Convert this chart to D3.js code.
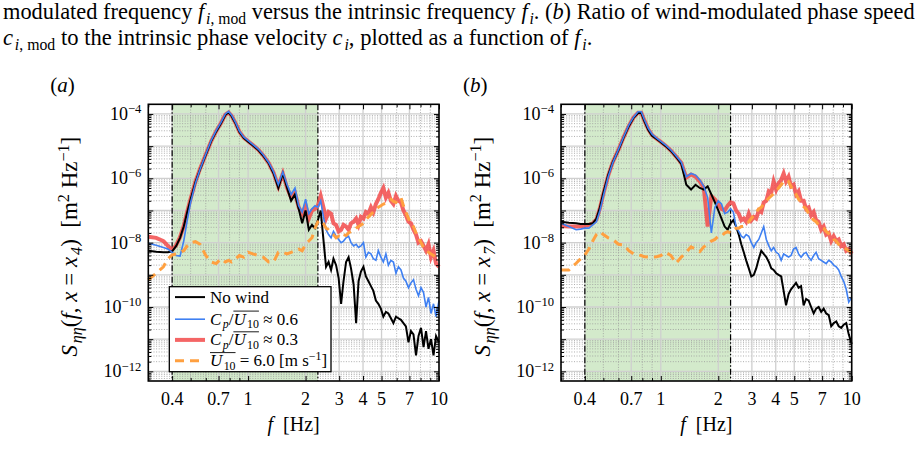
<!DOCTYPE html>
<html>
<head>
<meta charset="utf-8">
<script src="https://cdn.jsdelivr.net/npm/d3@7"></script>
<style>
  body { margin: 0; background: #fff; }
  svg { display: block; }
  svg text { font-family: "Liberation Serif", "DejaVu Serif", "Times New Roman", serif; white-space: pre; }
</style>
</head>
<body>
<svg id="chart" width="915" height="462" font-family="Liberation Serif, DejaVu Serif, serif"></svg>
<script>
// frequency bins [Hz], shared by all spectra
var freq = [0.30, 0.33, 0.36, 0.38, 0.40, 0.42, 0.44, 0.46, 0.48, 0.50,
    0.53, 0.56, 0.60, 0.64, 0.68, 0.72, 0.76, 0.79, 0.82, 0.86,
    0.90, 0.95, 1.00, 1.06, 1.13, 1.20, 1.28, 1.36, 1.44, 1.52,
    1.60, 1.68, 1.76, 1.84, 1.92, 2.00, 2.08, 2.16, 2.24, 2.32,
    2.40, 2.48, 2.56, 2.64, 2.72, 2.80, 2.89, 2.98, 3.07, 3.16,
    3.26, 3.36, 3.46, 3.57, 3.68, 3.79, 3.90, 4.02, 4.14, 4.27,
    4.40, 4.53, 4.67, 4.81, 4.96, 5.11, 5.27, 5.43, 5.60, 5.77,
    5.95, 6.13, 6.32, 6.51, 6.71, 6.92, 7.13, 7.35, 7.58, 7.81,
    8.05, 8.30, 8.55, 8.81, 9.08, 9.36, 9.65, 10.0];

// log10 of S_eta_eta [m^2 Hz^-1], panel (a), x = x4
var aNoWind = [-8.25, -8.28, -8.3, -8.3, -8.27, -8.1, -7.85, -7.5, -7.05, -6.65,
    -6.12, -5.72, -5.27, -4.85, -4.55, -4.3, -4.03, -3.95, -4.07, -4.3,
    -4.56, -4.75, -4.86, -4.98, -5.12, -5.3, -5.53, -5.85, -6.3, -5.85,
    -6.3, -6.7, -6.5, -6.95, -7.4, -7.0, -7.6, -7.45, -7.55, -7.3,
    -7.0, -7.9, -8.75, -8.6, -8.85, -8.5, -8.7, -9.1, -9.9, -9.2,
    -8.6, -8.45, -8.8, -9.3, -10.5, -9.2, -8.9, -8.75, -9.05, -9.2,
    -9.35, -9.5, -9.8, -9.9, -10.05, -10.3, -10.15, -10.2, -10.35, -10.5,
    -10.3, -10.35, -10.4, -10.5, -10.6, -11.1, -10.75, -10.85, -11.5, -10.9,
    -10.65, -11.25, -10.75, -11.3, -11.0, -11.5, -10.9, -11.1];
var aCp06 = [-8.02, -8.08, -8.15, -8.2, -8.3, -8.4, -8.42, -7.95, -7.3, -6.75,
    -6.15, -5.72, -5.25, -4.83, -4.52, -4.27, -4.0, -3.92, -4.04, -4.27,
    -4.53, -4.72, -4.83, -4.95, -5.09, -5.27, -5.5, -5.8, -6.2, -5.8,
    -6.2, -6.5, -6.3, -6.85, -7.05, -6.65, -7.1, -6.95, -6.85, -6.9,
    -6.7, -7.2, -7.6, -7.75, -7.85, -7.65, -7.8, -7.9, -8.0, -7.95,
    -7.85, -7.8, -8.0, -8.1, -8.05, -8.15, -8.1, -8.0, -8.45, -8.3,
    -8.35, -8.5, -8.55, -8.25, -8.45, -8.6, -8.35, -8.7, -8.55, -8.6,
    -8.95, -8.75, -8.85, -9.1, -9.2, -9.4, -9.25, -9.15, -9.45, -9.65,
    -9.4, -9.55, -10.0, -9.7, -10.2, -9.9, -10.3, -9.8];
var aCp03 = [-7.82, -7.85, -7.95, -8.1, -8.22, -8.08, -7.83, -7.48, -7.03, -6.63,
    -6.1, -5.7, -5.26, -4.85, -4.54, -4.29, -4.02, -3.95, -4.06, -4.29,
    -4.55, -4.74, -4.85, -4.97, -5.11, -5.29, -5.52, -5.83, -6.25, -5.85,
    -6.3, -6.6, -6.45, -6.9, -7.1, -6.85, -7.25, -7.0, -6.95, -6.85,
    -6.55, -6.9, -7.25, -7.05, -7.1, -7.4, -7.45, -7.65, -7.6, -7.45,
    -7.5, -7.6, -7.4, -7.35, -7.25, -7.45, -7.2, -7.25, -7.05, -7.1,
    -6.9, -7.05, -6.8, -6.65, -6.45, -6.3, -6.6, -6.45, -6.7, -6.8,
    -6.55, -6.7, -6.75, -7.0, -7.15, -7.35, -7.4, -7.6, -7.75, -8.0,
    -7.95, -8.1, -8.25, -8.05, -8.45, -8.25, -8.65, -8.75];
var aU10 = [-9.16, -8.95, -8.75, -8.5, -8.38, -8.35, -8.3, -8.25, -8.1, -8.0,
    -7.97, -8.05, -8.4, -8.6, -8.65, -8.5, -8.6, -8.55, -8.6, -8.5,
    -8.4, -8.45, -8.3, -8.35, -8.4, -8.45, -8.6, -8.6, -8.3, -8.3,
    -8.35, -8.3, -8.25, -8.2, -8.25, -8.05, -7.95, -7.85, -7.55, -7.35,
    -7.3, -7.4, -7.55, -7.6, -7.7, -7.75, -7.85, -7.8, -7.85, -7.75,
    -7.78, -7.7, -7.65, -7.62, -7.55, -7.5, -7.45, -7.4, -7.3, -7.2,
    -7.12, -7.05, -6.95, -6.9, -6.85, -6.8, -6.78, -6.7, -6.65, -6.72,
    -6.75, -6.65, -6.6, -6.85, -7.05, -7.25, -7.4, -7.5, -7.7, -7.85,
    -8.0, -8.15, -8.25, -8.3, -8.35, -8.4, -8.45, -8.45];

// log10 of S_eta_eta, panel (b), x = x7
var bNoWind = [-7.35, -7.38, -7.4, -7.42, -7.42, -7.42, -7.4, -7.25, -6.9, -6.45,
    -5.9, -5.5, -5.12, -4.72, -4.38, -4.12, -3.97, -3.97, -4.22, -4.5,
    -4.68, -4.78, -4.88, -5.0, -5.15, -5.33, -5.55, -6.2, -6.35, -6.2,
    -6.3, -6.35, -6.25, -6.5, -6.75, -7.0, -7.25, -7.5, -7.6, -7.4,
    -7.3, -7.5, -7.75, -8.05, -8.3, -8.55, -8.8, -9.05, -9.0, -8.8,
    -8.5, -8.25, -8.35, -8.45, -8.6, -8.8, -8.85, -8.95, -9.0, -9.05,
    -9.5, -9.95, -9.6, -9.45, -9.35, -9.25, -9.4, -9.35, -9.95, -9.75,
    -9.8, -10.0, -10.2, -10.05, -10.0, -10.15, -10.05, -10.2, -10.25, -10.6,
    -10.5, -10.45, -10.6, -10.65, -10.55, -10.5, -10.85, -11.15];
var bCp06 = [-7.4, -7.5, -7.6, -7.58, -7.55, -7.55, -7.45, -7.35, -7.0, -6.55,
    -5.95, -5.52, -5.1, -4.7, -4.35, -4.1, -3.93, -3.93, -4.18, -4.45,
    -4.63, -4.75, -4.85, -4.97, -5.12, -5.3, -5.5, -5.95, -5.85, -5.9,
    -6.05, -6.25, -6.6, -7.7, -6.9, -6.7, -6.8, -7.1, -7.05, -6.95,
    -7.05, -7.5, -7.65, -7.8, -7.85, -7.75, -7.8, -8.0, -8.15, -8.0,
    -7.9, -7.7, -7.5, -7.9, -8.1, -8.25, -8.15, -8.3, -8.35, -8.55,
    -8.35, -8.4, -8.45, -8.4, -8.2, -8.15, -8.35, -8.45, -8.35, -8.3,
    -8.45, -8.55, -8.4, -8.3, -8.5, -8.55, -8.6, -8.65, -8.55, -8.6,
    -8.7, -8.75, -8.85, -9.05, -9.2, -9.45, -9.85, -9.7];
var bCp03 = [-7.48, -7.5, -7.5, -7.5, -7.48, -7.45, -7.4, -7.28, -6.92, -6.48,
    -5.92, -5.5, -5.11, -4.71, -4.37, -4.11, -3.96, -3.96, -4.2, -4.48,
    -4.66, -4.77, -4.87, -4.99, -5.14, -5.32, -5.52, -5.98, -5.88, -5.95,
    -6.1, -6.3, -7.5, -6.55, -6.65, -6.8, -6.95, -7.0, -6.85, -6.75,
    -6.78, -7.0, -7.1, -7.3, -7.25, -7.35, -7.1, -7.3, -7.2, -7.25,
    -7.0, -7.05, -6.75, -6.7, -6.4, -6.45, -6.1, -6.35, -6.15, -6.05,
    -5.85, -6.1, -5.95, -6.25, -6.2, -6.5, -6.4, -6.7, -6.7, -6.95,
    -6.9, -7.15, -7.05, -7.3, -7.35, -7.6, -7.5, -7.75, -7.7, -7.95,
    -7.8, -7.95, -7.9, -8.1, -8.05, -8.25, -8.2, -8.35];
var bU10 = [-8.85, -8.85, -8.64, -8.5, -8.38, -8.2, -7.95, -7.75, -7.66, -7.75,
    -7.85, -7.9, -8.05, -8.07, -8.25, -8.35, -8.38, -8.4, -8.44, -8.45,
    -8.45, -8.44, -8.4, -8.3, -8.4, -8.64, -8.45, -8.3, -8.13, -8.2,
    -8.28, -8.13, -8.05, -7.95, -7.9, -7.8, -7.8, -7.7, -7.66, -7.7,
    -7.6, -7.55, -7.55, -7.5, -7.5, -7.45, -7.35, -7.25, -7.15, -7.05,
    -6.95, -6.9, -6.8, -6.7, -6.62, -6.55, -6.48, -6.42, -6.3, -6.2,
    -6.1, -6.05, -6.1, -6.25, -6.4, -6.5, -6.65, -6.75, -6.88, -6.95,
    -7.1, -7.2, -7.3, -7.35, -7.45, -7.5, -7.55, -7.65, -7.72, -7.8,
    -7.9, -7.95, -8.05, -8.1, -8.15, -8.2, -8.25, -8.3];

// axis ticks
var xMajor = [0.4, 0.7, 1, 2, 3, 4, 5, 7, 10];
var xMinor = [0.3, 0.5, 0.6, 0.8, 0.9, 6, 8, 9];
var yDecades = [-12, -11, -10, -9, -8, -7, -6, -5, -4];
var yLabelled = [-12, -10, -8, -6, -4];
var band = [0.4, 2.32];   // shaded frequency range

var W = 290.7, H = 276.7;
var FONT = "Liberation Serif, DejaVu Serif, serif";
var svg = d3.select("#chart");

// text with italic / sub / sup / overline pieces
function rich(sel, x, y, parts, fs, anchor) {
    var t = sel.append("text").attr("x", x).attr("y", y)
        .attr("font-family", FONT)
        .style("font-size", fs + "px")
        .attr("text-anchor", anchor || "start");
    var shift = 0, prevItalic = false;
    parts.forEach(function (p) {
        var fl = p[1] || "";
        var ts = t.append("tspan").text(p[0]);
        var target = fl.indexOf("_") >= 0 ? 0.22 * fs : (fl.indexOf("^") >= 0 ? -0.38 * fs : 0);
        if (target !== shift) {
            ts.attr("dy", target - shift);
            // small italic correction before a subscript
            if (target > 0 && prevItalic) ts.attr("dx", 0.08 * fs);
            shift = target;
        }
        if (target !== 0) ts.style("font-size", (0.7 * fs) + "px");
        prevItalic = fl.indexOf("i") >= 0;
        if (prevItalic) ts.style("font-style", "italic");
        if (fl.indexOf("o") >= 0) ts.classed("ol", true);
    });
    var ol = t.selectAll("tspan.ol").nodes();
    if (ol.length) {
        var x0 = ol[0].getStartPositionOfChar(0).x;
        var last = ol[ol.length - 1];
        var x1 = last.getEndPositionOfChar(last.getNumberOfChars() - 1).x;
        sel.append("line")
            .attr("x1", x0).attr("x2", x1)
            .attr("y1", y - 0.8 * fs).attr("y2", y - 0.8 * fs)
            .attr("stroke", "#000").attr("stroke-width", 0.9);
    }
    return t;
}

// caption lines, sized to span the same width as the page text
function caption(y, parts, width) {
    var fs0 = 18;
    var t = rich(svg, 3, y, parts, fs0);
    var k = width / t.node().getComputedTextLength();
    t.remove();
    rich(svg, 3, y, parts, fs0 * k);
}

caption(19, [["modulated frequency "], ["f", "i"], ["i", "i_"], [", mod", "_"],
    [" versus the intrinsic frequency "], ["f", "i"], ["i", "i_"], [". ("], ["b", "i"],
    [") Ratio of wind-modulated phase speed"]], 909);
caption(45, [["c", "i"], ["i", "i_"], [", mod", "_"], [" to the intrinsic phase velocity "],
    ["c", "i"], ["i", "i_"], [", plotted as a function of "], ["f", "i"], ["i", "i_"], ["."]], 584);

function drawPanel(left, top, letter, xsub, series) {
    var g = svg.append("g").attr("transform", "translate(" + left + "," + top + ")");
    var x = d3.scaleLog().domain([0.3, 10]).range([0, W]);
    var y = d3.scaleLog().domain([Math.pow(10, -12.3), Math.pow(10, -3.7)]).range([H, 0]);

    // shaded band
    g.append("rect")
        .attr("x", x(band[0])).attr("y", 0)
        .attr("width", x(band[1]) - x(band[0])).attr("height", H)
        .attr("fill", "#d3eacb");

    // grid
    var yMinor = [];
    [-13].concat(yDecades).forEach(function (e) {
        for (var k = 2; k <= 9; k++) yMinor.push(k * Math.pow(10, e));
    });
    yMinor = yMinor.filter(function (v) { return y(v) >= 0 && y(v) <= H; });
    var yMajor = yDecades.map(function (e) { return Math.pow(10, e); });

    g.append("g").selectAll("line").data(yMinor).enter().append("line")
        .attr("x1", 0).attr("x2", W)
        .attr("y1", function (d) { return y(d); }).attr("y2", function (d) { return y(d); })
        .attr("stroke", "#9a9a9a").attr("stroke-width", 0.8)
        .attr("stroke-dasharray", "1,1.6");
    g.append("g").selectAll("line").data(xMinor).enter().append("line")
        .attr("x1", function (d) { return x(d); }).attr("x2", function (d) { return x(d); })
        .attr("y1", 0).attr("y2", H)
        .attr("stroke", "#9a9a9a").attr("stroke-width", 0.8)
        .attr("stroke-dasharray", "1,1.6");
    g.append("g").selectAll("line").data(yMajor).enter().append("line")
        .attr("x1", 0).attr("x2", W)
        .attr("y1", function (d) { return y(d); }).attr("y2", function (d) { return y(d); })
        .attr("stroke", "#cfcfcf").attr("stroke-width", 1.3);
    g.append("g").selectAll("line").data(xMajor).enter().append("line")
        .attr("x1", function (d) { return x(d); }).attr("x2", function (d) { return x(d); })
        .attr("y1", 0).attr("y2", H)
        .attr("stroke", "#cfcfcf").attr("stroke-width", 1.3);

    // band edges
    g.append("g").selectAll("line").data(band).enter().append("line")
        .attr("x1", function (d) { return x(d); }).attr("x2", function (d) { return x(d); })
        .attr("y1", 0).attr("y2", H)
        .attr("stroke", "#000").attr("stroke-width", 1.2)
        .attr("stroke-dasharray", "6,2,1.5,2");

    // spectra: red underneath so black and blue stay on top of it
    var line = d3.line()
        .x(function (d, i) { return x(freq[i]); })
        .y(function (d) { return y(Math.pow(10, d)); });
    g.append("path").datum(series[2]).attr("d", line)
        .attr("fill", "none").attr("stroke", "#f24a4a").attr("stroke-width", 4)
        .attr("stroke-opacity", 0.85).attr("stroke-linejoin", "miter");
    g.append("path").datum(series[0]).attr("d", line)
        .attr("fill", "none").attr("stroke", "#000").attr("stroke-width", 2);
    g.append("path").datum(series[1]).attr("d", line)
        .attr("fill", "none").attr("stroke", "#3f80f2").attr("stroke-width", 1.6);
    g.append("path").datum(series[3]).attr("d", line)
        .attr("fill", "none").attr("stroke", "#ffa040").attr("stroke-width", 3)
        .attr("stroke-dasharray", "9,6");

    // ticks on all four sides, pointing in
    function ticks(axis, vals, size, tr) {
        var a = g.append("g").attr("transform", tr || null)
            .call(axis.tickValues(vals).tickSize(-size).tickFormat(""));
        a.select(".domain").remove();
        a.selectAll("line").attr("stroke", "#000").attr("stroke-width", 1);
        return a;
    }
    ticks(d3.axisBottom(x), xMajor, 5, "translate(0," + H + ")");
    ticks(d3.axisBottom(x), xMinor, 3, "translate(0," + H + ")");
    ticks(d3.axisTop(x), xMajor, 5);
    ticks(d3.axisTop(x), xMinor, 3);
    ticks(d3.axisLeft(y), yMajor, 5);
    ticks(d3.axisLeft(y), yMinor, 3);
    ticks(d3.axisRight(y), yMajor, 5, "translate(" + W + ",0)");
    ticks(d3.axisRight(y), yMinor, 3, "translate(" + W + ",0)");

    g.append("rect").attr("width", W).attr("height", H)
        .attr("fill", "none").attr("stroke", "#000").attr("stroke-width", 1.6);

    // tick labels
    xMajor.forEach(function (v) {
        rich(g, x(v), H + 24, [[String(v)]], 18, "middle");
    });
    yLabelled.forEach(function (e) {
        rich(g, -7, y(Math.pow(10, e)) + 6, [["10"], ["\u2212" + (-e), "^"]], 18, "end");
    });

    // axis titles
    rich(g, W / 2, H + 50, [["f", "i"], ["  [Hz]"]], 20, "middle");
    var yl = g.append("g").attr("transform", "translate(-71," + (H / 2 + 4) + ") rotate(-90)");
    rich(yl, 0, 0, [["S", "i"], ["\u03b7\u03b7", "i_"], ["("], ["f", "i"], [", "], ["x", "i"],
        [" = "], ["x", "i"], [xsub, "i_"], [")  [m"], ["2", "^"], [" Hz"], ["\u22121", "^"], ["]"]],
        23, "middle");

    // panel letter
    rich(g, -98, -12, [["("], [letter, "i"], [")"]], 21);
    return g;
}

var ga = drawPanel(148.3, 104.3, "a", "4", [aNoWind, aCp06, aCp03, aU10]);
drawPanel(561, 104.3, "b", "7", [bNoWind, bCp06, bCp03, bU10]);

// legend in panel (a)
var leg = ga.append("g").attr("transform", "translate(21,182.4)");
leg.append("rect").attr("width", 161.7).attr("height", 85)
    .attr("fill", "#fff").attr("stroke", "#000").attr("stroke-width", 1.3);
var legendItems = [
    { parts: [["No wind"]], color: "#000", w: 2, dash: null, op: 1 },
    { parts: [["C", "i"], ["p", "i_"], ["/"], ["U", "io"], ["10", "_o"], [" \u2248 0.6"]], color: "#3f80f2", w: 1.6, dash: null, op: 1 },
    { parts: [["C", "i"], ["p", "i_"], ["/"], ["U", "io"], ["10", "_o"], [" \u2248 0.3"]], color: "#f24a4a", w: 4, dash: null, op: 0.85 },
    { parts: [["U", "io"], ["10", "_o"], [" = 6.0 [m s"], ["\u22121", "^"], ["]"]], color: "#ffa040", w: 3, dash: "9,6", op: 1 }
];
var rowY = [10.4, 32.5, 53.2, 74];
legendItems.forEach(function (d, i) {
    leg.append("line").attr("x1", 5.7).attr("x2", 35.7)
        .attr("y1", rowY[i]).attr("y2", rowY[i])
        .attr("stroke", d.color).attr("stroke-width", d.w)
        .attr("stroke-opacity", d.op).attr("stroke-dasharray", d.dash);
    rich(leg, 40.7, rowY[i] + 5.5, d.parts, 17);
});
</script>
</body>
</html>
